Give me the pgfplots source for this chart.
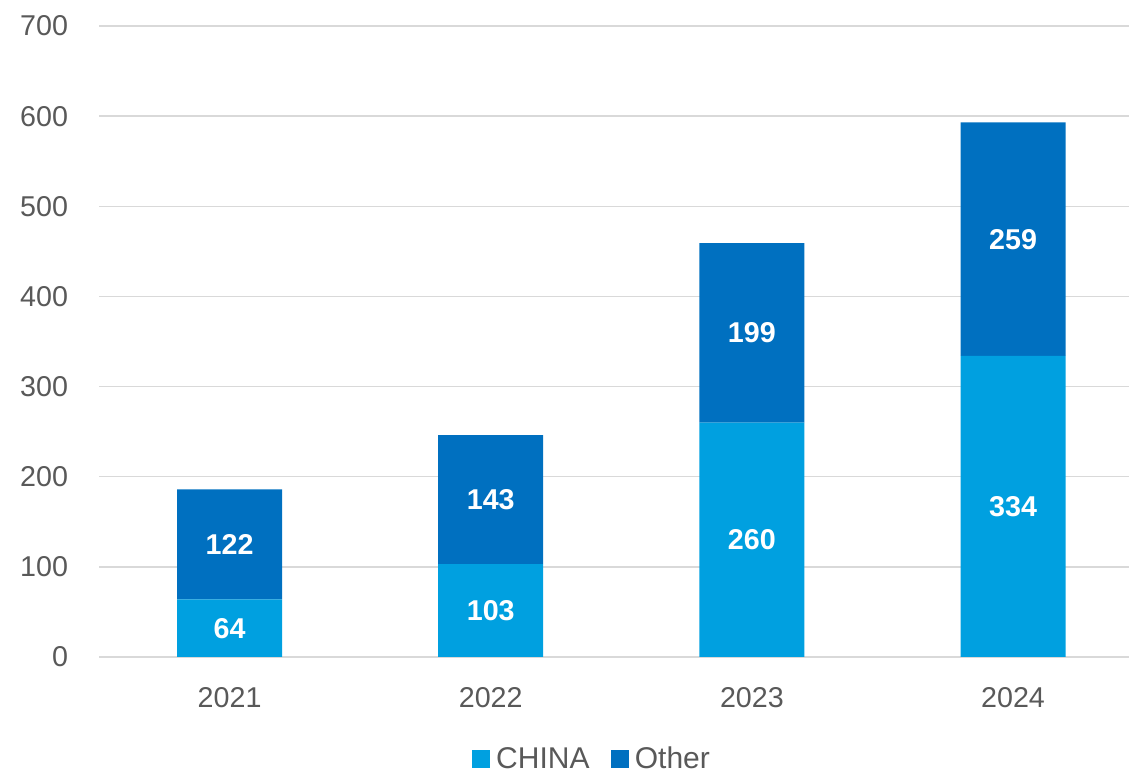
\documentclass[border=0pt]{standalone}
\usepackage{pgfplots}
\pgfplotsset{compat=1.18}
\usepackage{pgfplotstable}
\usepackage{fontspec}
\setmainfont{Liberation Sans}
\definecolor{china}{HTML}{00A0E0}
\definecolor{other}{HTML}{0070C0}
\definecolor{txt}{HTML}{595959}
\definecolor{grd}{HTML}{D9D9D9}
\pgfplotstableread{
x china other
0 64 122
1 103 143
2 260 199
3 334 259
}\data
\begin{document}
\begin{tikzpicture}
\path[use as bounding box] (0,0) rectangle (846.75pt,578.25pt);
\begin{axis}[
  at={(74.25pt,85.5pt)}, anchor=south west,
  scale only axis, width=772.5pt, height=473.25pt,
  ybar stacked, bar width=78.75pt,
  xmin=-0.5, xmax=3.444, ymin=0, ymax=700,
  xtick={0,1,2,3}, xticklabels={2021,2022,2023,2024},
  ytick={0,100,...,700},
  ymajorgrids, grid style={grd, line width=1.1pt},
  axis line style={draw=none},
  major tick length=0pt,
  tick label style={font=\fontsize{21.5}{25}\selectfont, text=txt},
  /pgf/number format/assume math mode=true,
  yticklabel style={inner sep=0pt, anchor=east, xshift=-23pt},
  xticklabel style={inner sep=0pt, anchor=north, yshift=-22.5pt},
  legend style={at={(axis description cs:0.479,-0.1617)}, anchor=center, draw=none, fill=none, legend columns=2, font=\fontsize{22.5}{25}\selectfont, text=txt, /tikz/every odd column/.append style={column sep=2.5pt}, /tikz/every even column/.append style={column sep=14pt}},
  legend cell align=left,
  every axis plot post/.append style={legend image code/.code={\fill[##1] (0pt,-6.75pt) rectangle (13.5pt,6.75pt);}},
  nodes near coords={\pgfmathprintnumber{\rawy}},
  every node near coord/.append style={anchor=center, font=\bfseries\fontsize{21.5}{25}\selectfont, text=white},
]
\addplot[fill=china, draw=none, visualization depends on={\thisrow{china} \as \rawy}] table[x=x,y=china]{\data};
\addplot[fill=other, draw=none, visualization depends on={\thisrow{other} \as \rawy}] table[x=x,y=other]{\data};
\legend{CHINA, Other}
\end{axis}
\end{tikzpicture}
\end{document}
